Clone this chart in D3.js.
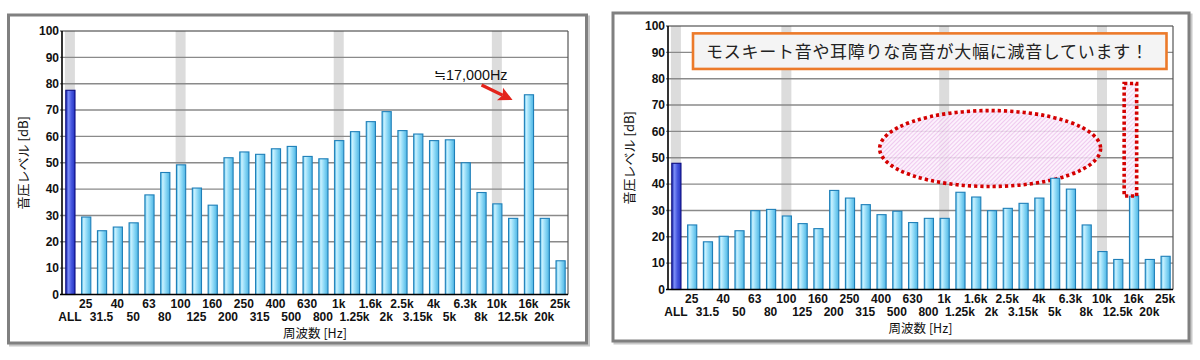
<!DOCTYPE html>
<html>
<head>
<meta charset="utf-8">
<script src="https://cdn.jsdelivr.net/npm/d3@7"></script>
<style>
  html, body { margin: 0; padding: 0; background: #ffffff; }
  svg { display: block; }
</style>
</head>
<body>
<svg id="chart" width="1200" height="360"></svg>
<script>
// ---- data ----
const categories = ["ALL","25","31.5","40","50","63","80","100","125","160","200","250","315","400","500","630","800","1k","1.25k","1.6k","2k","2.5k","3.15k","4k","5k","6.3k","8k","10k","12.5k","16k","20k","25k"];
const beforeValues = [77.5, 29.4, 24.2, 25.6, 27.2, 37.8, 46.3, 49.2, 40.4, 33.9, 51.9, 54.1, 53.2, 55.3, 56.2, 52.4, 51.5, 58.4, 61.8, 65.6, 69.4, 62.2, 60.9, 58.4, 58.7, 50.0, 38.7, 34.4, 28.9, 75.8, 28.9, 12.8];
const afterValues = [47.9, 24.5, 18.1, 20.2, 22.3, 29.9, 30.4, 27.9, 25.0, 23.1, 37.6, 34.7, 32.2, 28.4, 29.7, 25.4, 27.0, 27.0, 36.9, 35.1, 29.9, 30.8, 32.7, 34.7, 42.2, 38.1, 24.5, 14.4, 11.4, 35.5, 11.4, 12.6];
const highlightCategories = ["ALL","100","1k","10k"];
const yTicks = [0,10,20,30,40,50,60,70,80,90,100];
const yAxisTitle = "音圧レベル [dB]";
const xAxisTitle = "周波数 [Hz]";
const leftNote = "≒17,000Hz";
const rightNote = "モスキート音や耳障りな高音が大幅に減音しています！";

const svg = d3.select("#chart");
const defs = svg.append("defs");

// gradients
const gBar = defs.append("linearGradient").attr("id","gBar").attr("x1","0").attr("x2","1").attr("y1","0").attr("y2","0");
[["0%","#52bce9"],["22%","#c9f1ff"],["55%","#8fdaf7"],["100%","#4cb4e3"]].forEach(s=>gBar.append("stop").attr("offset",s[0]).attr("stop-color",s[1]));
const gAll = defs.append("linearGradient").attr("id","gAll").attr("x1","0").attr("x2","1").attr("y1","0").attr("y2","0");
[["0%","#2030b8"],["30%","#7a8cf5"],["60%","#4858e0"],["100%","#2434c0"]].forEach(s=>gAll.append("stop").attr("offset",s[0]).attr("stop-color",s[1]));
// hatch pattern
const pat = defs.append("pattern").attr("id","hatch").attr("patternUnits","userSpaceOnUse")
  .attr("width",3).attr("height",3).attr("patternTransform","rotate(45)");
pat.append("rect").attr("width",3).attr("height",3).attr("fill","#fbeefb");
pat.append("line").attr("x1",0).attr("y1",0).attr("x2",0).attr("y2",3).attr("stroke","#e2a0e2").attr("stroke-width",1.2);

const tickFont = "'Liberation Sans', Arial, sans-serif";
const jpFont = "'Noto Sans CJK JP', sans-serif";

function drawPanel(cfg, values) {
  const g = svg.append("g");
  // outer frame (shadow + border)
  g.append("rect").attr("x",cfg.fx+2).attr("y",cfg.fy+2).attr("width",cfg.fw).attr("height",cfg.fh)
    .attr("fill","none").attr("stroke","#c8c8c8").attr("stroke-width",3);
  g.append("rect").attr("x",cfg.fx).attr("y",cfg.fy).attr("width",cfg.fw).attr("height",cfg.fh)
    .attr("fill","#ffffff").attr("stroke","#808080").attr("stroke-width",3);

  const x = d3.scaleBand().domain(categories).range([cfg.x0, cfg.x1]).padding(0);
  const y = d3.scaleLinear().domain([0,100]).range([cfg.yb, cfg.yt]);
  const step = x.step();
  const bw = step * 0.58;

  // highlight bands
  g.selectAll(".band").data(highlightCategories).enter().append("rect")
    .attr("x", d => x(d) + step/2 - 5).attr("y", y(100)).attr("width", 10).attr("height", y(0)-y(100))
    .attr("fill","#dcdcdc");

  // gridlines
  g.selectAll(".grid").data(yTicks.filter(t=>t>0 && t<100)).enter().append("line")
    .attr("x1", cfg.x0 - 2).attr("x2", cfg.x1).attr("y1", d=>y(d)).attr("y2", d=>y(d))
    .attr("stroke","#8a8a8a").attr("stroke-width",1.4);
  // plot frame top/right
  g.append("line").attr("x1",cfg.x0-2).attr("x2",cfg.x1).attr("y1",y(100)).attr("y2",y(100)).attr("stroke","#333").attr("stroke-width",1.2);
  g.append("line").attr("x1",cfg.x1).attr("x2",cfg.x1).attr("y1",y(100)).attr("y2",y(0)).attr("stroke","#555").attr("stroke-width",1.2);

  cfg.under && cfg.under(g, x, y, step);

  // bars
  g.selectAll(".bar").data(categories).enter().append("rect")
    .attr("x", d => x(d) + (step-bw)/2 + 0.5)
    .attr("y", (d,i) => y(values[i]))
    .attr("width", bw)
    .attr("height", (d,i) => y(0) - y(values[i]))
    .attr("fill", d => d==="ALL" ? "url(#gAll)" : "url(#gBar)")
    .attr("stroke", d => d==="ALL" ? "#0c0c80" : "#1f7fb8")
    .attr("stroke-width", 1.1);

  // axes lines
  g.append("line").attr("x1",cfg.x0).attr("x2",cfg.x0).attr("y1",y(100)).attr("y2",y(0)).attr("stroke","#000").attr("stroke-width",1.6);
  g.append("line").attr("x1",cfg.x0-2).attr("x2",cfg.x1).attr("y1",y(0)).attr("y2",y(0)).attr("stroke","#000").attr("stroke-width",1.6);

  // y tick labels
  const yAxis = d3.axisLeft(y).tickValues(yTicks).tickSize(0).tickPadding(3);
  const ya = g.append("g").attr("transform",`translate(${cfg.x0},0)`).call(yAxis);
  ya.select(".domain").remove();
  ya.selectAll("text").attr("font-family",tickFont).attr("font-size",12).attr("fill","#111").attr("font-weight","bold");

  // x tick labels (two rows)
  g.selectAll(".xl").data(categories).enter().append("text")
    .attr("x", d => x(d) + step/2)
    .attr("y", (d,i) => y(0) + (i % 2 === 1 ? 13.5 : 26))
    .attr("text-anchor","middle")
    .attr("font-family",tickFont).attr("font-size",12).attr("fill","#111").attr("font-weight","bold")
    .text(d => d);

  // axis titles
  g.append("text").attr("x",(cfg.x0+cfg.x1)/2).attr("y",y(0)+43.5)
    .attr("text-anchor","middle").attr("font-family",jpFont).attr("font-size",12.5).attr("fill","#111")
    .text(xAxisTitle);
  g.append("text").attr("transform",`translate(${cfg.x0-34},${(y(0)+y(100))/2}) rotate(-90)`)
    .attr("text-anchor","middle").attr("font-family",jpFont).attr("font-size",13).attr("fill","#111")
    .text(yAxisTitle);

  cfg.over && cfg.over(g, x, y, step);
}

// Left panel: before
drawPanel({fx:8.5, fy:15, fw:578, fh:328, x0:62, x1:568, yt:31, yb:294.5,
  over: (g, x, y, step) => {
    const bx = x("16k");
    g.append("text").attr("x", bx - 13).attr("y", y(81.5)).attr("text-anchor","end")
      .attr("font-family",tickFont).attr("font-size",14).attr("fill","#111")
      .attr("textLength",74).attr("lengthAdjust","spacingAndGlyphs")
      .text(leftNote);
    const tipX = bx - 8, tipY = y(73.8);
    const sx = bx - 39, sy = y(79.5);
    const ang = Math.atan2(tipY - sy, tipX - sx);
    const L = 14, W = 7;
    const baseX = tipX - L*Math.cos(ang), baseY = tipY - L*Math.sin(ang);
    g.append("line").attr("x1",sx).attr("y1",sy).attr("x2",baseX + 3*Math.cos(ang)).attr("y2",baseY + 3*Math.sin(ang))
      .attr("stroke","#e3231b").attr("stroke-width",3.2);
    const px = -Math.sin(ang), py = Math.cos(ang);
    g.append("path").attr("d",
      `M${tipX},${tipY} L${baseX + W*px},${baseY + W*py} L${baseX + 3*Math.cos(ang)},${baseY + 3*Math.sin(ang)} L${baseX - W*px},${baseY - W*py} Z`)
      .attr("fill","#e3231b");
  }
}, beforeValues);

// Right panel: after
drawPanel({fx:613, fy:13, fw:576, fh:328, x0:668, x1:1173, yt:26, yb:289.5,
  under: (g, x, y, step) => {
    // hatched ellipse (high-frequency region)
    g.append("ellipse").attr("cx", x("2k") + 6.5).attr("cy", y(53.5))
      .attr("rx", step*7).attr("ry", y(0)-y(14.4))
      .attr("fill","url(#hatch)").attr("fill-opacity",0.85)
      .attr("stroke","#d40000").attr("stroke-width",3.6).attr("stroke-dasharray","3.2 3");
  },
  over: (g, x, y, step) => {
    const i16 = categories.indexOf("16k");
    g.append("rect").attr("x", x("16k") - 1.5).attr("y", y(78.2))
      .attr("width", 12.5).attr("height", y(afterValues[i16]) - y(78.2))
      .attr("fill","url(#hatch)").attr("fill-opacity",0.6)
      .attr("stroke","#d40000").attr("stroke-width",3.6).attr("stroke-dasharray","3.2 2.6");
    // message box
    const bx0 = 693, bx1 = 1166.5, by0 = y(97.2), by1 = y(83.7);
    g.append("rect").attr("x",bx0).attr("y",by0).attr("width",bx1-bx0).attr("height",by1-by0)
      .attr("fill","#f4f4f4").attr("stroke","#ec7a2a").attr("stroke-width",2.6);
    g.append("text").attr("x",706).attr("y",(by0+by1)/2 + 6.5)
      .attr("font-family",jpFont).attr("font-size",17).attr("fill","#222")
      .attr("textLength",442).attr("lengthAdjust","spacing")
      .text(rightNote);
  }
}, afterValues);
</script>
</body>
</html>
